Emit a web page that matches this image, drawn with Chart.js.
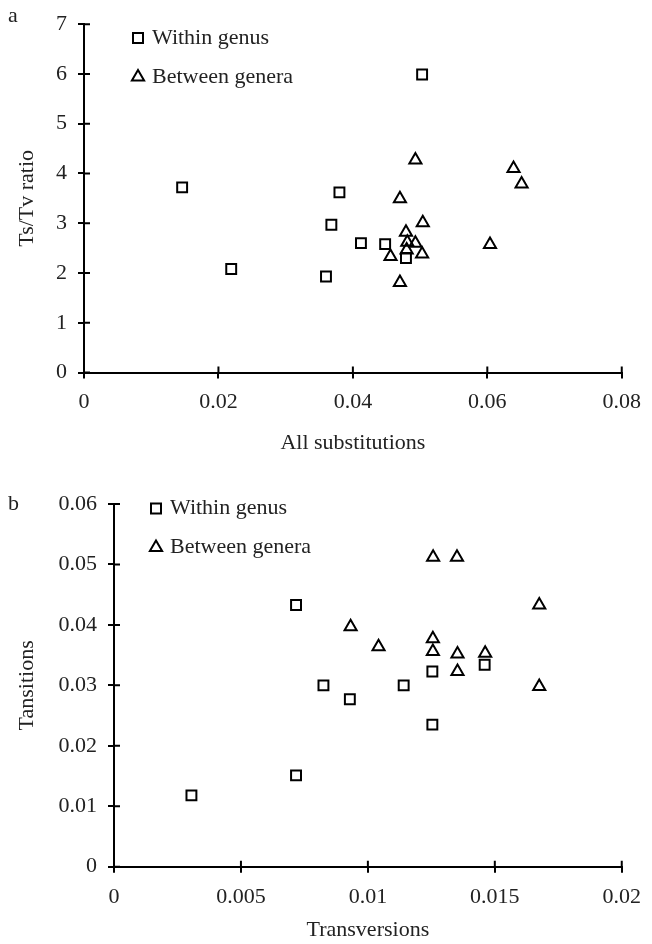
<!DOCTYPE html>
<html lang="en">
<head>
<meta charset="UTF-8">
<title>Ts/Tv scatter plots</title>
<script src="https://cdn.jsdelivr.net/npm/chart.js"></script>
<style>
  body {
    margin: 0;
    padding: 0;
    width: 652px;
    height: 944px;
    position: relative;
    overflow: hidden;
    background: #fff;
    font-family: "Liberation Serif", "DejaVu Serif", serif;
  }
  .panel { position: absolute; left: 0; width: 652px; }
  .tag { position: absolute; left: 8px; font-size: 22px; line-height: 22px; color: #222; }
</style>
</head>
<body>

<div class="panel" style="top:0;height:470px"><canvas id="chartA" width="652" height="470"></canvas></div>
<div class="panel" style="top:470px;height:474px"><canvas id="chartB" width="652" height="474"></canvas></div>
<div class="tag" style="top:4px">a</div>
<div class="tag" style="top:492px">b</div>

<script>
// panel a: Ts/Tv ratio vs all substitutions
var withinA_x = [0.0146, 0.0219, 0.0360, 0.0368, 0.0380, 0.0412, 0.0448, 0.0479, 0.0503];
var withinA_y = [3.72, 2.08, 1.93, 2.97, 3.62, 2.60, 2.58, 2.30, 5.99];
var betweenA_x = [0.0493, 0.0639, 0.0651, 0.0470, 0.0504, 0.0479, 0.0481, 0.0493, 0.0456, 0.0480, 0.0503, 0.0604, 0.0470];
var betweenA_y = [4.27, 4.10, 3.79, 3.49, 3.01, 2.82, 2.62, 2.60, 2.33, 2.46, 2.38, 2.57, 1.81];
var xTicksA = [0, 0.02, 0.04, 0.06, 0.08];
var yTicksA = [0, 1, 2, 3, 4, 5, 6, 7];

// panel b: transitions vs transversions
var withinB_x = [0.00305, 0.00717, 0.00717, 0.00825, 0.00929, 0.01141, 0.01254, 0.01254, 0.01460];
var withinB_y = [0.0118, 0.0433, 0.0151, 0.0300, 0.0277, 0.0300, 0.0323, 0.0235, 0.0334];
var betweenB_x = [0.01257, 0.01351, 0.01675, 0.00932, 0.01042, 0.01256, 0.01256, 0.01353, 0.01353, 0.01462, 0.01675];
var betweenB_y = [0.0512, 0.0512, 0.0433, 0.0397, 0.0364, 0.0377, 0.0356, 0.0352, 0.0323, 0.0353, 0.0298];
var xTicksB = [0, 0.005, 0.01, 0.015, 0.02];
var yTicksB = [0, 0.01, 0.02, 0.03, 0.04, 0.05, 0.06];

var seriesNames = ['Within genus', 'Between genera'];
var titlesA = { x: 'All substitutions', y: 'Ts/Tv ratio' };
var titlesB = { x: 'Transversions', y: 'Tansitions' };

var FONT = { family: '"Liberation Serif", "DejaVu Serif", serif', size: 22 };
var TEXT = '#222';

function pts(xs, ys) {
    return xs.map(function(x, i) { return { x: x, y: ys[i] }; });
}

// tick marks in the reference cross the axis, chart.js only draws the outer half
var innerTicks = {
    id: 'innerTicks',
    afterDraw: function(chart) {
        var ctx = chart.ctx, xs = chart.scales.x, ys = chart.scales.y;
        ctx.save();
        ctx.strokeStyle = '#000';
        ctx.lineWidth = 2;
        ctx.beginPath();
        xs.ticks.forEach(function(t, i) {
            var px = xs.getPixelForTick(i);
            ctx.moveTo(px, xs.top);
            ctx.lineTo(px, xs.top - 6);
        });
        ys.ticks.forEach(function(t, i) {
            var py = ys.getPixelForTick(i);
            ctx.moveTo(ys.right, py);
            ctx.lineTo(ys.right + 6, py);
        });
        ctx.stroke();
        ctx.restore();
    }
};

// move the in-plot legend to where the reference has it
var legendShift = {
    id: 'legendShift',
    afterLayout: function(chart, args, opts) {
        var l = chart.legend;
        if (!l) return;
        l.left += opts.dx; l.right += opts.dx;
        l.top += opts.dy; l.bottom += opts.dy;
    }
};

function makeChart(id, c) {
    var ctx = document.getElementById(id).getContext('2d');
    return new Chart(ctx, {
        type: 'scatter',
        data: {
            datasets: [{
                label: seriesNames[0],
                data: pts(c.wx, c.wy),
                pointStyle: 'rect',
                pointRadius: 7,
                borderColor: '#000',
                backgroundColor: 'rgba(0,0,0,0)',
                borderWidth: 2
            }, {
                label: seriesNames[1],
                data: pts(c.bx, c.by),
                pointStyle: 'triangle',
                pointRadius: 7,
                borderColor: '#000',
                backgroundColor: 'rgba(0,0,0,0)',
                borderWidth: 2
            }]
        },
        options: {
            responsive: false,
            animation: false,
            layout: { padding: c.pad },
            plugins: {
                legend: {
                    position: 'chartArea',
                    align: 'start',
                    labels: {
                        usePointStyle: true,
                        boxWidth: 6,
                        boxHeight: 10,
                        padding: 17,
                        color: TEXT,
                        font: FONT
                    }
                },
                tooltip: { enabled: false },
                legendShift: c.shift
            },
            scales: {
                x: {
                    type: 'linear',
                    min: c.xTicks[0],
                    max: c.xTicks[c.xTicks.length - 1],
                    afterBuildTicks: function(s) { s.ticks = c.xTicks.map(function(v) { return { value: v }; }); },
                    afterFit: function(s) { s.height = c.xHeight; },
                    grid: { drawOnChartArea: false, color: '#000', lineWidth: 2, tickLength: 6 },
                    border: { color: '#000', width: 2 },
                    ticks: { color: TEXT, font: FONT, padding: 11, maxRotation: 0, callback: function(v) { return String(v); } },
                    title: { display: true, text: c.titles.x, color: TEXT, font: FONT, padding: { top: 0, bottom: 0 } }
                },
                y: {
                    type: 'linear',
                    min: c.yTicks[0],
                    max: c.yTicks[c.yTicks.length - 1],
                    afterBuildTicks: function(s) { s.ticks = c.yTicks.map(function(v) { return { value: v }; }); },
                    afterFit: function(s) { s.width = c.yWidth; },
                    grid: { drawOnChartArea: false, color: '#000', lineWidth: 2, tickLength: 6 },
                    border: { color: '#000', width: 2 },
                    ticks: { color: TEXT, font: FONT, padding: 11, callback: function(v) { return String(v); } },
                    title: { display: true, text: c.titles.y, color: TEXT, font: FONT, padding: { top: 14, bottom: 0 } }
                }
            }
        },
        plugins: [innerTicks, legendShift]
    });
}

makeChart('chartA', {
    wx: withinA_x, wy: withinA_y, bx: betweenA_x, by: betweenA_y,
    xTicks: xTicksA, yTicks: yTicksA, titles: titlesA,
    pad: { left: 0, right: 20, top: 24, bottom: 14 },
    xHeight: 83.5, yWidth: 84,
    shift: { dx: 34, dy: 10 }
});

makeChart('chartB', {
    wx: withinB_x, wy: withinB_y, bx: betweenB_x, by: betweenB_y,
    xTicks: xTicksB, yTicks: yTicksB, titles: titlesB,
    pad: { left: 0, right: 29, top: 34, bottom: 1 },
    xHeight: 76.3, yWidth: 114,
    shift: { dx: 22, dy: 10.5 }
});
</script>
</body>
</html>
